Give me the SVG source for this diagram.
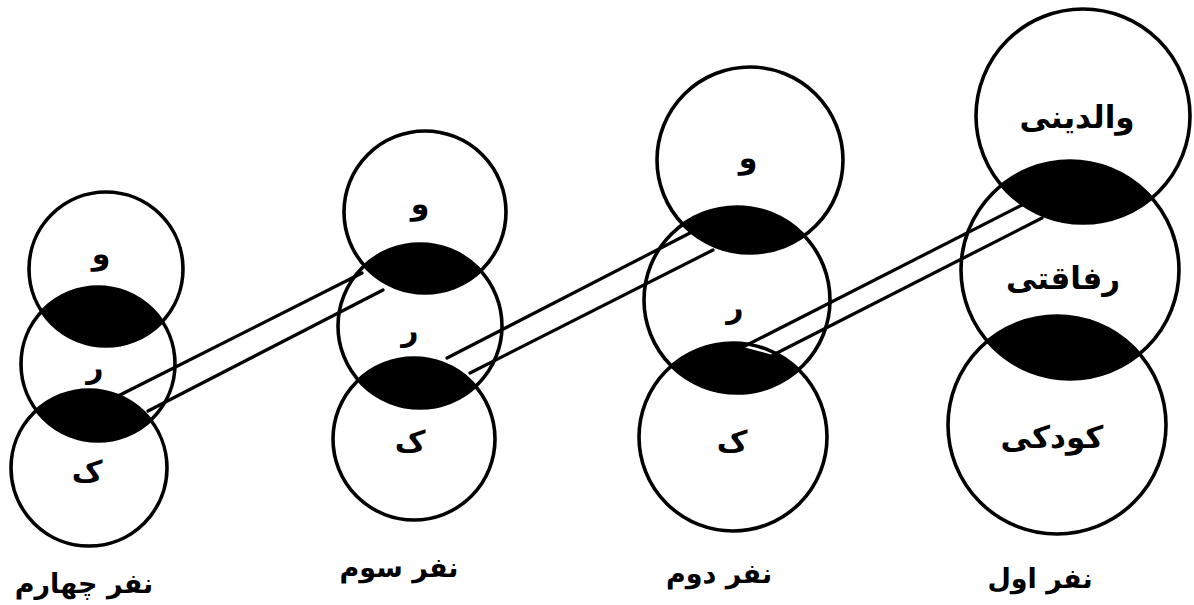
<svg xmlns="http://www.w3.org/2000/svg" width="1194" height="605" viewBox="0 0 1194 605">
<style>
.c{fill:none;stroke:#000;stroke-width:3.6}
.lens{fill:#000}
.band{fill:#fff;stroke:none}
.ln{stroke:#000;stroke-width:3.2;stroke-linecap:round;fill:none}
.t{font-family:"DejaVu Sans",sans-serif;font-weight:bold;fill:#000;text-anchor:middle}
.s{font-size:30px}
.w{font-size:31px}
.lab{font-size:27px}
</style>
<defs>
<clipPath id="k4m"><circle cx="98" cy="364" r="77"/></clipPath>
<clipPath id="k4b"><circle cx="89" cy="468" r="78"/></clipPath>
<clipPath id="k3m"><circle cx="420" cy="326" r="82"/></clipPath>
<clipPath id="k3b"><circle cx="414" cy="439" r="81"/></clipPath>
<clipPath id="k2m"><circle cx="737" cy="300" r="93"/></clipPath>
<clipPath id="k2b"><circle cx="733" cy="437" r="94"/></clipPath>
<clipPath id="k1m"><circle cx="1070" cy="270" r="109"/></clipPath>
<clipPath id="k1b"><circle cx="1057" cy="425" r="109"/></clipPath>
</defs>
<rect width="1194" height="605" fill="#fff"/>
<g id="overlaps">
<circle class="lens" cx="106" cy="269" r="77" clip-path="url(#k4m)"/>
<circle class="lens" cx="98" cy="364" r="77" clip-path="url(#k4b)"/>
<circle class="lens" cx="425" cy="212" r="81" clip-path="url(#k3m)"/>
<circle class="lens" cx="420" cy="326" r="82" clip-path="url(#k3b)"/>
<circle class="lens" cx="750" cy="160" r="93" clip-path="url(#k2m)"/>
<circle class="lens" cx="737" cy="300" r="93" clip-path="url(#k2b)"/>
<circle class="lens" cx="1083" cy="116" r="107" clip-path="url(#k1m)"/>
<circle class="lens" cx="1070" cy="270" r="109" clip-path="url(#k1b)"/>
</g>
<g id="connector-bands">
<polygon class="band" points="120,395 362,273 383,290 148,411"/>
<polygon class="band" points="447,358 690,233 713,250 470,373"/>
<polygon class="band" points="743,347 1022,205 1042,218 773,355"/>
</g>
<g id="person4">
<g id="p4-v"><circle class="c" cx="106" cy="269" r="77"/><text class="t s" x="101" y="264">و</text></g>
<g id="p4-r"><circle class="c" cx="98" cy="364" r="77"/><text class="t s" x="95" y="378">ر</text></g>
<g id="p4-k"><circle class="c" cx="89" cy="468" r="78"/><text class="t s" x="87" y="482">ک</text></g>
<text class="t lab" x="84" y="593">نفر چهارم</text>
</g>
<g id="person3">
<g id="p3-v"><circle class="c" cx="425" cy="212" r="81"/><text class="t s" x="420" y="214">و</text></g>
<g id="p3-r"><circle class="c" cx="420" cy="326" r="82"/><text class="t s" x="410" y="341">ر</text></g>
<g id="p3-k"><circle class="c" cx="414" cy="439" r="81"/><text class="t s" x="410" y="452">ک</text></g>
<text class="t lab" x="399" y="577">نفر سوم</text>
</g>
<g id="person2">
<g id="p2-v"><circle class="c" cx="750" cy="160" r="93"/><text class="t s" x="748" y="168">و</text></g>
<g id="p2-r"><circle class="c" cx="737" cy="300" r="93"/><text class="t s" x="735" y="318">ر</text></g>
<g id="p2-k"><circle class="c" cx="733" cy="437" r="94"/><text class="t s" x="732" y="452">ک</text></g>
<text class="t lab" x="719" y="583">نفر دوم</text>
</g>
<g id="person1">
<g id="p1-v"><circle class="c" cx="1083" cy="116" r="107"/><text class="t w" x="1077" y="128">والدینی</text></g>
<g id="p1-r"><circle class="c" cx="1070" cy="270" r="109"/><text class="t w" x="1063" y="289">رفاقتی</text></g>
<g id="p1-k"><circle class="c" cx="1057" cy="425" r="109"/><text class="t w" x="1052" y="448">کودکی</text></g>
<text class="t lab" x="1040" y="588">نفر اول</text>
</g>
<g id="connectors">
<line class="ln" x1="120" y1="395" x2="362" y2="273"/>
<line class="ln" x1="148" y1="411" x2="383" y2="290"/>
<line class="ln" x1="447" y1="358" x2="690" y2="233"/>
<line class="ln" x1="470" y1="373" x2="713" y2="250"/>
<line class="ln" x1="743" y1="347" x2="1022" y2="205"/>
<line class="ln" x1="773" y1="355" x2="1042" y2="218"/>
</g>
</svg>
